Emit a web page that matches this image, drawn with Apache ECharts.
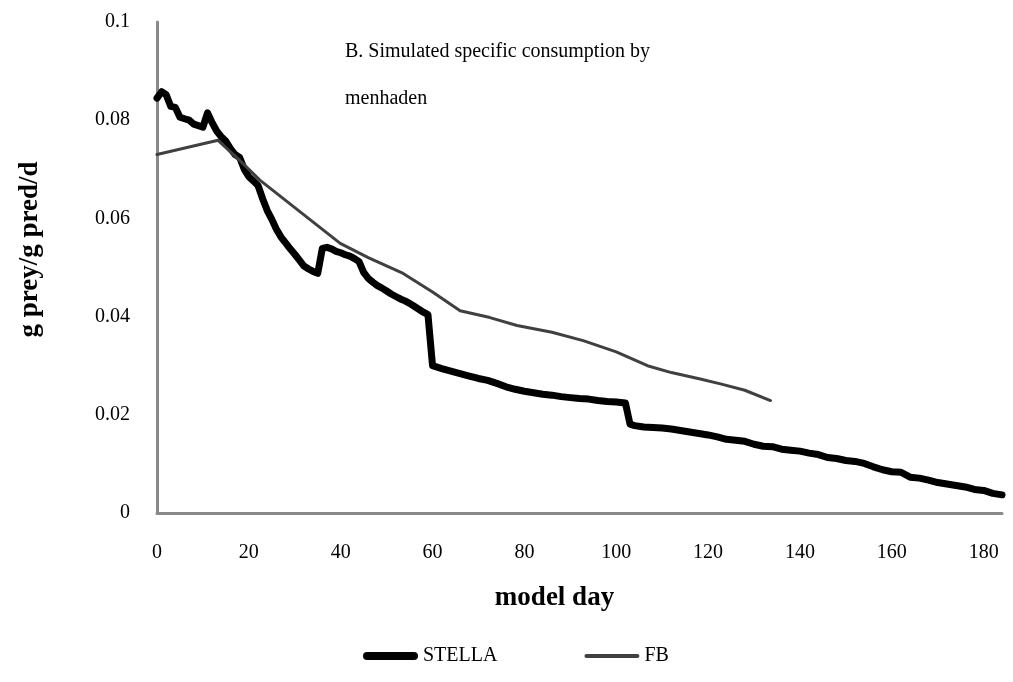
<!DOCTYPE html>
<html>
<head>
<meta charset="utf-8">
<script src="https://cdn.jsdelivr.net/npm/echarts@6/dist/echarts.min.js"></script>
<style>html,body{margin:0;padding:0;background:#fff;}#c{width:1013px;height:682px;}</style>
</head>
<body>
<div id="c"></div>
<script>
const xTicks = [0, 20, 40, 60, 80, 100, 120, 140, 160, 180];
const stellaDays = [0,1,2,3,4,5,6,7,8,9,10,11,12,13,14,15,16,17,18,19,20,21,22,23,24,25,26,27,28,29,30,31,32,33,34,35,36,37,38,39,40,41,42,43,44,45,46,47,48,49,50,51,52,53,54,55,56,57,58,59,60,61,62,64,66,68,70,72,74,76,78,80,82,84,86,88,90,92,94,96,98,100,102,103,104,106,108,110,112,114,116,118,120,122,124,126,128,130,132,134,136,138,140,142,144,146,148,150,152,154,156,158,160,162,164,166,168,170,172,174,176,178,180,182,184];
const stellaValues = [0.0845,0.0858,0.0852,0.0828,0.0826,0.0806,0.0803,0.0800,0.0792,0.0789,0.0786,0.0815,0.0795,0.0778,0.0766,0.0757,0.0742,0.0730,0.0724,0.0700,0.0685,0.0676,0.0667,0.0640,0.0616,0.0598,0.0578,0.0562,0.0550,0.0538,0.0527,0.0515,0.0503,0.0497,0.0492,0.0488,0.0539,0.0541,0.0538,0.0533,0.0530,0.0526,0.0523,0.0518,0.0512,0.0490,0.0478,0.0470,0.0463,0.0458,0.0452,0.0446,0.0441,0.0436,0.0432,0.0427,0.0421,0.0415,0.0409,0.0404,0.0300,0.0297,0.0294,0.0289,0.0284,0.0279,0.0274,0.0270,0.0264,0.0257,0.0252,0.0248,0.0245,0.0242,0.0240,0.0237,0.0235,0.0233,0.0232,0.0229,0.0227,0.0226,0.0224,0.0181,0.0178,0.0175,0.0174,0.0173,0.0171,0.0168,0.0165,0.0162,0.0159,0.0155,0.0150,0.0148,0.0146,0.0140,0.0136,0.0135,0.0130,0.0128,0.0126,0.0122,0.0119,0.0113,0.0111,0.0107,0.0105,0.0101,0.0094,0.0088,0.0084,0.0083,0.0073,0.0071,0.0067,0.0062,0.0059,0.0056,0.0053,0.0048,0.0046,0.0040,0.0037];
const fbDays = [0, 13.3, 18, 22.4, 30, 39.9, 46, 53.6, 60, 66, 72.5, 78.4, 86, 92.8, 100, 106.8, 112, 118.3, 122.7, 128, 133.6];
const fbValues = [0.0730, 0.0759, 0.0718, 0.0678, 0.0622, 0.0549, 0.0520, 0.0488, 0.0450, 0.0412, 0.0398, 0.0382, 0.0368, 0.0351, 0.0328, 0.0300, 0.0286, 0.0273, 0.0263, 0.0250, 0.0229];
const seriesNames = ['STELLA', 'FB'];
const titleText = 'B. Simulated specific consumption by\nmenhaden';

const font = '"Liberation Serif", "Times New Roman", serif';
const chart = echarts.init(document.getElementById('c'));
chart.setOption({
  animation: false,
  backgroundColor: '#ffffff',
  title: {
    text: titleText, left: 340, top: 23,
    textStyle: { fontFamily: font, fontSize: 20, fontWeight: 'normal', color: '#000', lineHeight: 47 }
  },
  grid: { left: 157, top: 22, right: 11, bottom: 169, containLabel: false },
  legend: {
    bottom: 11, left: 358, itemWidth: 55, itemHeight: 14, itemGap: 87,
    textStyle: { fontFamily: font, fontSize: 20, color: '#000' },
    data: [
      { name: seriesNames[0], icon: 'path://M4,0H51A4,4,0,0,1,51,8H4A4,4,0,0,1,4,0Z', itemStyle: { color: '#000' } },
      { name: seriesNames[1], icon: 'path://M2,0H50A2,2,0,0,1,50,4H2A2,2,0,0,1,2,0Z', itemStyle: { color: '#404040' } }
    ]
  },
  xAxis: {
    type: 'value', min: 0, max: 184, interval: 20,
    name: 'model day', nameLocation: 'middle', nameGap: 72,
    nameTextStyle: { fontFamily: font, fontSize: 27, fontWeight: 'bold', color: '#000', padding: [0, 50, 0, 0] },
    axisLine: { show: true, lineStyle: { color: '#898989', width: 3 } },
    axisTick: { show: false },
    splitLine: { show: false },
    axisLabel: {
      margin: 30, fontFamily: font, fontSize: 20, color: '#000', showMaxLabel: false,
      formatter: v => xTicks.indexOf(v) >= 0 ? String(v) : ''
    }
  },
  yAxis: {
    type: 'value', min: 0, max: 0.1, interval: 0.02,
    name: 'g prey/g pred/d', nameLocation: 'middle', nameGap: 113, nameRotate: 90,
    nameTextStyle: { fontFamily: font, fontSize: 27, fontWeight: 'bold', color: '#000', padding: [0, 0, 0, 36] },
    axisLine: { show: true, lineStyle: { color: '#898989', width: 3 } },
    axisTick: { show: false },
    splitLine: { show: false },
    axisLabel: { margin: 27, fontFamily: font, fontSize: 20, color: '#000' }
  },
  series: [
    {
      name: seriesNames[0], type: 'line', showSymbol: false, symbol: 'none',
      data: stellaDays.map((d, i) => [d, stellaValues[i]]),
      lineStyle: { color: '#000', width: 7, cap: 'round', join: 'round' },
      itemStyle: { color: '#000' }
    },
    {
      name: seriesNames[1], type: 'line', showSymbol: false, symbol: 'none',
      data: fbDays.map((d, i) => [d, fbValues[i]]),
      lineStyle: { color: '#404040', width: 3, cap: 'round', join: 'round' },
      itemStyle: { color: '#404040' }
    }
  ]
});
</script>
</body>
</html>
